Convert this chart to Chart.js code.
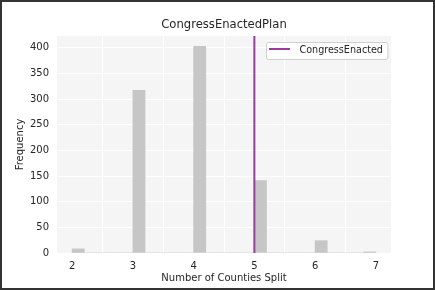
<!DOCTYPE html>
<html>
<head>
<meta charset="utf-8">
<script src="https://cdn.jsdelivr.net/npm/chart.js@4/dist/chart.umd.min.js"></script>
<style>
  html, body { margin: 0; padding: 0; background: #ffffff; }
  #wrap { position: relative; width: 435px; height: 290px; }
  #c { position: absolute; left: 0; top: 0; }
  #frame { position: absolute; left: 0; top: 0; width: 435px; height: 290px; box-sizing: border-box;
           border: 2px solid #333; pointer-events: none; }
</style>
</head>
<body>
<div id="wrap">
  <canvas id="c" width="435" height="290"></canvas>
  <div id="frame"></div>
</div>
<script>
// ---- data ----
const chartTitle = "CongressEnactedPlan";
const xAxisTitle = "Number of Counties Split";
const yAxisTitle = "Frequency";
const binWidth = 0.2;
const binLefts = [2.0, 2.2, 2.4, 2.6, 2.8, 3.0, 3.2, 3.4, 3.6, 3.8, 4.0, 4.2, 4.4, 4.6, 4.8,
                  5.0, 5.2, 5.4, 5.6, 5.8, 6.0, 6.2, 6.4, 6.6, 6.8];
const binCounts = [8, 0, 0, 0, 0, 317, 0, 0, 0, 0, 403, 0, 0, 0, 0,
                   141, 0, 0, 0, 0, 24, 0, 0, 0, 2];
const enactedLabel = "CongressEnacted";
const enactedValue = 5;
const xTicks = [2, 3, 4, 5, 6, 7];
const yTicks = [0, 50, 100, 150, 200, 250, 300, 350, 400];
const xMin = 1.75, xMax = 7.25;
const yMin = 0, yMax = 423.15;

const FONT = "'DejaVu Sans', sans-serif";
const TEXT = "#262626";
const PURPLE = "#9c3ba0";

const histData = binLefts.map((b, i) => ({ x: b + binWidth / 2, y: binCounts[i] }));

const bgPlugin = {
  id: 'bg',
  beforeDraw(chart) {
    const { ctx, chartArea: a } = chart;
    ctx.save();
    ctx.fillStyle = '#f5f5f5';
    ctx.fillRect(a.left, a.top, a.right - a.left, a.bottom - a.top);
    ctx.restore();
  }
};

const titlePlugin = {
  id: 'centeredTitle',
  afterDraw(chart) {
    const ctx = chart.ctx, a = chart.chartArea;
    ctx.save();
    ctx.font = "11.6px " + FONT;
    ctx.fillStyle = TEXT;
    ctx.textAlign = 'center';
    ctx.textBaseline = 'middle';
    ctx.fillText(chartTitle, (a.left + a.right) / 2, 25);
    ctx.restore();
  }
};

const legendPlugin = {
  id: 'customLegend',
  afterDraw(chart) {
    const ctx = chart.ctx, a = chart.chartArea;
    const ds = chart.data.datasets[1];
    ctx.save();
    ctx.font = "9.6px " + FONT;
    const tw = ctx.measureText(ds.label).width;
    const w = 33 + tw + 5;
    const h = 17;
    const x = Math.round(a.right - 4 - w) + 0.5;
    const y = Math.round(a.top + 6) + 0.5;
    ctx.beginPath();
    if (ctx.roundRect) ctx.roundRect(x, y, w, h, 2); else ctx.rect(x, y, w, h);
    ctx.fillStyle = 'rgba(255,255,255,0.85)';
    ctx.fill();
    ctx.strokeStyle = '#d0d0d0';
    ctx.lineWidth = 1;
    ctx.stroke();
    ctx.beginPath();
    ctx.moveTo(x + 2.5, y + 6.5);
    ctx.lineTo(x + 23.5, y + 6.5);
    ctx.strokeStyle = ds.borderColor;
    ctx.lineWidth = 2;
    ctx.stroke();
    ctx.fillStyle = TEXT;
    ctx.textBaseline = 'middle';
    ctx.textAlign = 'left';
    ctx.fillText(ds.label, x + 33, y + 7.5);
    ctx.restore();
  }
};

new Chart(document.getElementById('c'), {
  type: 'bar',
  data: {
    datasets: [
      {
        type: 'bar',
        label: 'hist',
        data: histData,
        backgroundColor: '#c6c6c6',
        borderWidth: 0,
        barPercentage: 1.0,
        categoryPercentage: 1.0,
        order: 2
      },
      {
        type: 'line',
        label: enactedLabel,
        data: [{ x: enactedValue, y: yMin }, { x: enactedValue, y: yMax }],
        borderColor: PURPLE,
        borderWidth: 2,
        pointRadius: 0,
        fill: false,
        order: 1
      }
    ]
  },
  options: {
    responsive: false,
    animation: false,
    layout: { padding: { left: 0, right: 44, top: 36, bottom: 0 } },
    plugins: {
      legend: { display: false },
      tooltip: { enabled: false },
      title: { display: false }
    },
    scales: {
      x: {
        type: 'linear',
        min: xMin, max: xMax,
        offset: false,
        grid: { color: '#ffffff', lineWidth: 1, drawTicks: false },
        border: { display: false },
        afterBuildTicks(scale) { scale.ticks = xTicks.map(v => ({ value: v })); },
        ticks: { color: TEXT, font: { family: FONT, size: 10 }, padding: 7, includeBounds: false },
        title: { display: true, text: xAxisTitle, color: TEXT, font: { family: FONT, size: 10 }, padding: { top: 2, bottom: 6 } },
        afterFit(scale) { scale.height = 37; }
      },
      y: {
        type: 'linear',
        min: yMin, max: yMax,
        grid: { color: '#ffffff', lineWidth: 1, drawTicks: false },
        border: { display: false },
        afterBuildTicks(scale) { scale.ticks = yTicks.map(v => ({ value: v })); },
        ticks: { color: TEXT, font: { family: FONT, size: 10 }, padding: 8, includeBounds: false },
        title: { display: true, text: yAxisTitle, color: TEXT, font: { family: FONT, size: 10 }, padding: { top: 14, bottom: 4 } },
        afterFit(scale) { scale.width = 57; }
      }
    }
  },
  plugins: [bgPlugin, titlePlugin, legendPlugin]
});
</script>
</body>
</html>
